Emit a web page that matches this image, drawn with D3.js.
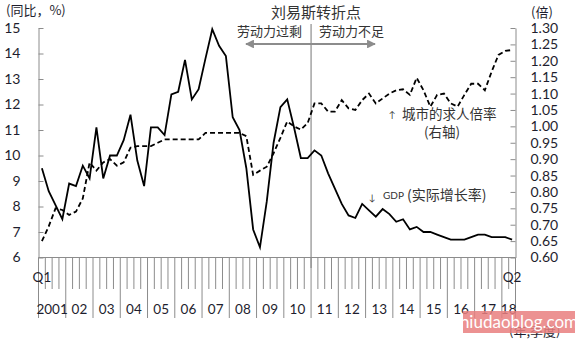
<!DOCTYPE html>
<html><head><meta charset="utf-8">
<script src="https://cdn.jsdelivr.net/npm/d3@7"></script>
<style>
body{margin:0;background:#fff;}
text{font-family:Lato,"Noto Sans CJK SC",sans-serif;}
.cjk{font-family:"Noto Sans CJK SC",sans-serif;}
</style></head>
<body><svg id="c" width="580" height="340"></svg>
<script>
const years = ["2001","02","03","04","05","06","07","08","09","10","11","12","13","14","15","16","17","18"];
const quartersPerYear = [4,4,4,4,4,4,4,4,4,4,4,4,4,4,4,4,4,2];
const gdp = [
 9.5, 8.6, 8.05, 7.5,
 8.9, 8.8, 9.6, 9.1,
 11.1, 9.1, 10.0, 10.0,
 10.6, 11.6, 9.8, 8.8,
 11.1, 11.1, 10.8, 12.4,
 12.5, 13.75, 12.2, 12.6,
 13.8, 14.95, 14.3, 13.9,
 11.5, 11.0, 9.5, 7.1,
 6.4, 8.2, 10.5, 11.9,
 12.2, 11.1, 9.9, 9.9,
 10.2, 10.0, 9.3, 8.7,
 8.1, 7.65, 7.55, 8.1,
 7.85, 7.6, 7.9, 7.7,
 7.4, 7.5, 7.1, 7.2,
 7.0, 7.0, 6.9, 6.8,
 6.7, 6.7, 6.7, 6.8,
 6.9, 6.9, 6.8, 6.8,
 6.8, 6.7];
const ratio = [
 0.65, 0.695, 0.75, 0.745,
 0.73, 0.74, 0.78, 0.89,
 0.865, 0.89, 0.90, 0.88,
 0.89, 0.935, 0.94, 0.94,
 0.94, 0.95, 0.96, 0.96,
 0.96, 0.96, 0.96, 0.96,
 0.98, 0.98, 0.98, 0.98,
 0.98, 0.98, 0.97, 0.852,
 0.865, 0.877, 0.918, 0.965,
 1.015, 1.0, 0.99, 1.01,
 1.07, 1.07, 1.045, 1.045,
 1.08, 1.055, 1.05, 1.08,
 1.10, 1.07, 1.085, 1.10,
 1.11, 1.113, 1.096, 1.148,
 1.11, 1.06, 1.096, 1.10,
 1.07, 1.06, 1.096, 1.13,
 1.13, 1.11, 1.167, 1.218,
 1.23, 1.233];
const leftTicks = [6,7,8,9,10,11,12,13,14,15];
const rightTicks = [0.60,0.65,0.70,0.75,0.80,0.85,0.90,0.95,1.00,1.05,1.10,1.15,1.20,1.25,1.30];
const turningYear = "11";

// periods
const periods = [];
years.forEach((y,yi)=>{ for(let q=0;q<quartersPerYear[yi];q++) periods.push({year:y, q:q+1, yi}); });

const svg = d3.select("#c");
const L=38.5, R=515.5, T=28, B=257.5;
const x = d3.scaleBand().domain(d3.range(periods.length)).range([L,R]).paddingInner(0).paddingOuter(0);
const yL = d3.scaleLinear().domain([6,15]).range([B,T]);
const yR = d3.scaleLinear().domain([0.60,1.30]).range([B,T]);
const cx = i => x(i)+x.bandwidth()/2;
const grey="#8c8c8c", txt="#1e1e2e";

// Lewis turning point line
const tIdx = periods.findIndex(p=>p.year===turningYear && p.q===1);
const tx = x(tIdx);
svg.append("line").attr("x1",tx).attr("x2",tx).attr("y1",24).attr("y2",268)
  .attr("stroke",grey).attr("stroke-width",1.2);

// left axis
const gL = svg.append("g").attr("transform",`translate(${L},0)`)
  .call(d3.axisLeft(yL).tickValues(leftTicks).tickSizeInner(-5).tickSizeOuter(0).tickPadding(18).tickFormat(d3.format("d")));
gL.select(".domain").attr("stroke",grey);
gL.selectAll(".tick line").attr("stroke",grey);
gL.selectAll("text").attr("font-size",14).attr("fill",txt).attr("font-family","Lato");

// right axis
const gR = svg.append("g").attr("transform",`translate(${R},0)`)
  .call(d3.axisRight(yR).tickValues(rightTicks).tickSizeInner(-5).tickSizeOuter(0).tickPadding(15).tickFormat(d3.format(".2f")));
gR.select(".domain").attr("stroke",grey);
gR.selectAll(".tick line").attr("stroke",grey);
gR.selectAll("text").attr("font-size",14).attr("fill",txt).attr("font-family","Lato");

// bottom axis line
svg.append("line").attr("x1",L).attr("x2",R).attr("y1",B).attr("y2",B).attr("stroke",grey);
// quarter ticks
const bounds = d3.range(periods.length+1);
svg.append("g").selectAll("line").data(bounds).join("line")
  .attr("x1",d=> d<periods.length? x(d): R).attr("x2",d=> d<periods.length? x(d): R)
  .attr("y1",B).attr("y2",d=> (d===periods.length || periods[d].q===1) ? 318 : 289)
  .attr("stroke",grey).attr("stroke-width",1);
// year labels
const yearPos = years.map((y,yi)=>{
  const idx = periods.map((p,i)=>i).filter(i=>periods[i].yi===yi);
  return {y, c:(x(idx[0]) + x(idx[idx.length-1])+x.bandwidth())/2};
});
svg.append("g").selectAll("text").data(yearPos).join("text")
  .attr("x",d=>d.c).attr("y",314).attr("text-anchor","middle")
  .attr("font-size",13.5).attr("fill",txt).text(d=>d.y);
svg.append("text").attr("x",cx(0)).attr("y",282).attr("text-anchor","middle").attr("font-size",13.5).attr("fill",txt).text("Q1");
svg.append("text").attr("x",cx(periods.length-1)).attr("y",282).attr("text-anchor","middle").attr("font-size",13.5).attr("fill",txt).text("Q2");

// lines
svg.append("path").datum(ratio).attr("fill","none").attr("stroke","#000").attr("stroke-width",1.8)
  .attr("stroke-dasharray","5,3")
  .attr("d",d3.line().x((d,i)=>cx(i)).y(d=>yR(d)));
svg.append("path").datum(gdp).attr("fill","none").attr("stroke","#000").attr("stroke-width",1.8)
  .attr("d",d3.line().x((d,i)=>cx(i)).y(d=>yL(d)));

// axis titles
svg.append("text").attr("class","cjk").attr("x",6).attr("y",15).attr("font-size",13).attr("fill",txt).text("(同比，%)");
svg.append("text").attr("class","cjk").attr("x",531).attr("y",17).attr("font-size",13).attr("fill",txt).text("(倍)");

// title & arrows
svg.append("text").attr("class","cjk").attr("x",316).attr("y",18).attr("text-anchor","middle").attr("font-size",15).attr("fill","#333").text("刘易斯转折点");
svg.append("text").attr("class","cjk").attr("x",302).attr("y",35.5).attr("text-anchor","end").attr("font-size",13).attr("fill","#333").text("劳动力过剩");
svg.append("text").attr("class","cjk").attr("x",319).attr("y",35.5).attr("text-anchor","start").attr("font-size",13).attr("fill","#333").text("劳动力不足");
const defs = svg.append("defs");
defs.append("marker").attr("id","ah").attr("viewBox","0 0 10 10").attr("refX",9).attr("refY",5)
  .attr("markerWidth",4).attr("markerHeight",4).attr("orient","auto-start-reverse")
  .append("path").attr("d","M0,0L10,5L0,10Z").attr("fill","#8c8c8c");
svg.append("line").attr("x1",tx).attr("x2",246).attr("y1",44).attr("y2",44).attr("stroke",grey).attr("stroke-width",2.2).attr("marker-end","url(#ah)");
svg.append("line").attr("x1",tx).attr("x2",375).attr("y1",44).attr("y2",44).attr("stroke",grey).attr("stroke-width",2.2).attr("marker-end","url(#ah)");

// series labels
svg.append("text").attr("x",392).attr("y",118).attr("text-anchor","middle").attr("font-size",9).attr("fill","#333").text("↑");
svg.append("text").attr("class","cjk").attr("x",402).attr("y",119).attr("font-size",13.5).attr("fill","#333").text("城市的求人倍率");
svg.append("text").attr("class","cjk").attr("x",442).attr("y",137).attr("text-anchor","middle").attr("font-size",13.5).attr("fill","#333").text("(右轴)");
svg.append("text").attr("x",372).attr("y",201).attr("text-anchor","middle").attr("font-size",9).attr("fill","#333").text("↓");
svg.append("text").attr("x",383).attr("y",199).attr("font-size",10).attr("fill","#333").text("GDP");
svg.append("text").attr("class","cjk").attr("x",407).attr("y",200).attr("font-size",14).attr("fill","#333").text("(实际增长率)");

// unit & watermark
svg.append("text").attr("class","cjk").attr("x",509).attr("y",336).attr("font-size",13).attr("fill",txt).text("(年,季度)");
svg.append("rect").attr("x",463).attr("y",311).attr("width",112).attr("height",22).attr("fill","#e97f7f").attr("opacity",0.85);
svg.append("text").attr("x",519).attr("y",328).attr("text-anchor","middle").attr("font-size",17).attr("fill","#fff").attr("font-family","DejaVu Sans").text("niudaoblog.com");
</script></body></html>
